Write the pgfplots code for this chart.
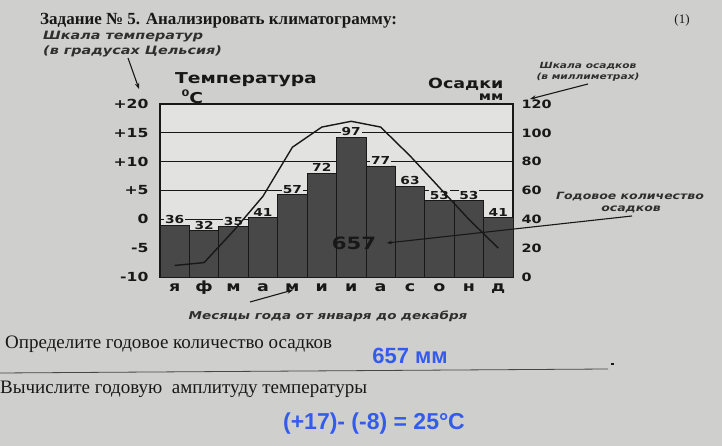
\documentclass[border=0pt]{standalone}
\usepackage{pgfplots}
\pgfplotsset{compat=1.18}
\usepackage{pgfplotstable}
\usepackage{fontspec}
\usetikzlibrary{arrows.meta}
\setmainfont{Liberation Serif}
\newfontfamily\chartfont[FakeStretch=1.25]{DejaVu Sans}
\newfontfamily\notefont[FakeStretch=1.25]{DejaVu Sans}
\newfontfamily\answerfont{Liberation Sans}

\definecolor{paper}{RGB}{207,207,205}
\definecolor{plotbg}{RGB}{226,226,224}
\definecolor{barfill}{RGB}{72,72,72}
\definecolor{ink}{RGB}{24,24,24}
\definecolor{answer}{RGB}{52,92,236}

% month, precipitation (mm), mean temperature (deg C)
\pgfplotstableread{
month precip temp
1  36  -8
2  32  -7.5
3  35  -2
4  41   4
5  57  12.5
6  72  16
7  97  17
8  77  16
9  63  11
10 53   5.5
11 53   0
12 41  -5
}\climate

\tikzset{
  chartlabel/.style={font=\chartfont\bfseries\fontsize{#1}{#1}\selectfont, text=ink},
  note/.style={font=\notefont\bfseries\itshape\fontsize{#1}{#1}\selectfont, text=ink!90},
}
\pgfplotsset{
  chartbox/.style={
    at={(160pt,169pt)}, anchor=south west,
    scale only axis, width=353pt, height=173pt,
    xmin=0.5, xmax=12.5,
    major tick length=0pt,
    /pgf/number format/assume math mode=true,
  },
}

\begin{document}
\begin{tikzpicture}[x=1pt,y=1pt]
\fill[paper] (0,0) rectangle (722,446);
\useasboundingbox (0,0) rectangle (722,446);

% precipitation bars with the millimetre scale on the right
\begin{axis}[chartbox,
  ymin=0, ymax=120,
  axis background/.style={fill=plotbg},
  axis line style={ink, line width=1.1pt},
  ytick={0,20,...,120},
  yticklabels={0,20,40,60,80,100,120},
  yticklabel pos=right,
  yticklabel style={chartlabel=11.5, anchor=west, xshift=5pt},
  xtick={1,...,12},
  xticklabels={я,ф,м,а,м,и,и,а,с,о,н,д},
  xticklabel style={chartlabel=14, anchor=base, yshift=-15pt},
  ymajorgrids, grid style={ink, line width=0.9pt},
]
\addplot[ybar, bar width=1, fill=barfill, draw=ink, line width=0.8pt,
  nodes near coords,
  nodes near coords style={chartlabel=11, fill=plotbg, inner sep=0.8pt, anchor=south}]
  table[x=month, y=precip] {\climate};
\end{axis}

% temperature curve with the Celsius scale on the left
\begin{axis}[chartbox,
  ymin=-10, ymax=20,
  axis line style={draw=none},
  xtick=\empty,
  ytick={-10,-5,...,20},
  yticklabels={-10,-5,0,+5,+10,+15,+20},
  yticklabel pos=left,
  yticklabel style={chartlabel=12.5, anchor=east, xshift=-8pt},
]
\addplot[ink, line width=1.4pt, sharp plot] table[x=month, y=temp] {\climate};
\end{axis}

% headings and notes
\node[anchor=base west, font=\bfseries\fontsize{17}{17}\selectfont, text=ink, inner sep=0pt]
  at (40,421) {Задание № 5. Анализировать климатограмму:};
\node[font=\fontsize{13}{13}\selectfont, text=ink] at (682,426) {(1)};

\node[anchor=west, note=11.5, inner sep=0pt] at (43,409) {Шкала температур};
\node[anchor=west, note=11.5, inner sep=0pt] at (43,395) {(в градусах Цельсия)};
\draw[ink, line width=1.1pt, -{Stealth[length=6pt]}] (128,388) -- (139,357);

\node[chartlabel=15] at (246,366) {Температура};
\node[chartlabel=15, anchor=west] at (178,349) {\raisebox{0.45em}{\fontsize{9}{9}\selectfont 0}C};
\node[chartlabel=14, anchor=east] at (507,362) {Осадки};
\node[chartlabel=12, anchor=east] at (507,349) {мм};

\node[note=8.5] at (588,380) {Шкала осадков};
\node[note=8.5] at (588,369) {(в миллиметрах)};
\draw[ink, line width=1.1pt, -{Stealth[length=6pt]}] (588,362) -- (530,347);

\node[note=10] at (630,249) {Годовое количество};
\node[note=10] at (631,237) {осадков};
\draw[ink, line width=1.1pt, -{Stealth[length=5pt]}] (632,230) -- (387,203);
\node[chartlabel=17] at (354,203) {657};

\draw[ink, line width=1.1pt, -{Stealth[length=6pt]}] (250,144) -- (293,156);
\node[note=10.8] at (328,130) {Месяцы года от января до декабря};

% questions and answers
\node[anchor=base west, font=\fontsize{19}{19}\selectfont, text=ink, inner sep=0pt] at (5,97)
  {Определите годовое количество осадков};
\node[font=\answerfont\bfseries\fontsize{22}{22}\selectfont, text=answer] at (410,90) {657 мм};
\draw[ink!80, line width=0.8pt] (0,73) -- (608,77);
\fill[ink] (611,81) rectangle (614,83);

\node[anchor=base west, font=\fontsize{19}{19}\selectfont, text=ink, inner sep=0pt] at (0,52)
  {Вычислите годовую\ \ амплитуду температуры};
\node[font=\answerfont\bfseries\fontsize{23}{23}\selectfont, text=answer] at (374,22) {(+17)- (-8) = 25°C};
\end{tikzpicture}
\end{document}
